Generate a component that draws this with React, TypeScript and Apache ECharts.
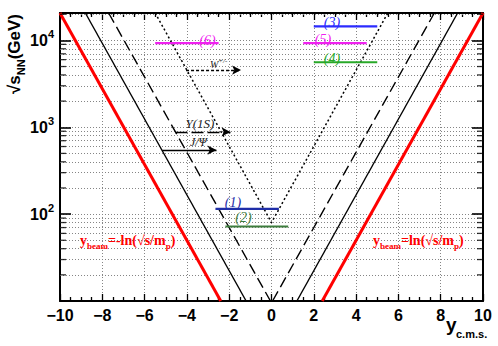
import React, { useEffect, useRef } from 'react';
import * as echarts from 'echarts';

// ---- axis extents ----
const xMin = -10;
const xMax = 10;
const sMin = 10;
const sMax = 20660;

// ---- rapidity boundary lines: [y_cms, sqrt(s_NN)] ----
const beamLeft = [[-10, 20660], [-2.4, 10]];
const beamRight = [[2.4, 10], [10, 20660]];
const jpsiLeft = [[-8.8, 20660], [-1.2, 10]];
const jpsiRight = [[1.2, 10], [8.8, 20660]];
const upsLeft = [[-7.7, 20660], [-0.05, 10]];
const upsRight = [[0.05, 10], [7.7, 20660]];
const wLine = [[-5.5, 20660], [0, 80], [5.5, 20660]];

// ---- experiment coverage segments ----
const segNames = ['(1)', '(2)', '(3)', '(4)', '(5)', '(6)'];
const segFrom = [-2.65, -2.18, 2.0, 2.0, 1.5, -5.5];
const segTo = [0.35, 0.79, 5.0, 5.0, 4.5, -2.5];
const segS = [115, 72, 14500, 5600, 9300, 9300];

// ---- arrows (particle thresholds) ----
const arrowNames = ['W', 'Upsilon', 'Jpsi'];
const arrowFrom = [-4.04, -4.54, -5.17];
const arrowTo = [-1.44, -1.94, -2.6];
const arrowS = [4550, 884, 546];

// ---- minor log grid levels ----
const mantissas = [2, 3, 4, 5, 6, 7, 8, 9];
const decades = [10, 100, 1000, 10000];

// ---- styles (kept apart from data) ----
const segColors = ['#1f2ea8', '#3d7d3d', '#2b2bff', '#28a828', '#f020f0', '#f020f0'];
const arrowTypes: any[] = [[3, 2], [12, 4], 'solid'];
const SANS = 'Liberation Sans, Arial, Helvetica, sans-serif';
const SERIF = 'Liberation Serif, Times New Roman, serif';
const GRID = '#858585';

export default function App() {
  const ref = useRef<HTMLDivElement>(null);

  useEffect(() => {
    document.body.style.margin = '0';
    const chart = echarts.init(ref.current!, null, { renderer: 'svg' });

    const minorLevels: number[] = [];
    decades.forEach((d) => mantissas.forEach((m) => {
      const v = m * d;
      if (v < sMax) minorLevels.push(v);
    }));

    const lineSeries = (data: number[][], color: string, width: number, type: any, z = 5) => ({
      type: 'line',
      data,
      symbol: 'none',
      showSymbol: false,
      silent: true,
      clip: true,
      z,
      lineStyle: { color, width, type },
    });

    const series: any[] = [
      {
        type: 'line',
        data: [],
        silent: true,
        z: 1,
        markLine: {
          silent: true,
          symbol: 'none',
          label: { show: false },
          lineStyle: { color: GRID, width: 1, type: [1, 2] },
          data: minorLevels.map((v) => ({ yAxis: v })),
        },
      },
      lineSeries(beamLeft, '#ff0000', 3, 'solid'),
      lineSeries(beamRight, '#ff0000', 3, 'solid'),
      lineSeries(jpsiLeft, '#000', 1.4, 'solid'),
      lineSeries(jpsiRight, '#000', 1.4, 'solid'),
      lineSeries(upsLeft, '#000', 1.4, [11, 5]),
      lineSeries(upsRight, '#000', 1.4, [11, 5]),
      lineSeries(wLine, '#000', 1.5, [2, 2.5]),
    ];

    segNames.forEach((n, i) => {
      series.push({
        ...lineSeries([[segFrom[i], segS[i]], [segTo[i], segS[i]]], segColors[i], 2.2, 'solid', 6),
        name: n,
      });
    });

    arrowNames.forEach((n, i) => {
      series.push({
        type: 'line',
        name: n,
        data: [],
        silent: true,
        z: 6,
        markLine: {
          silent: true,
          symbol: ['none', 'arrow'],
          symbolSize: [7, 9],
          label: { show: false },
          lineStyle: { color: '#000', width: 1.4, type: arrowTypes[i] },
          data: [[{ coord: [arrowFrom[i], arrowS[i]] }, { coord: [arrowTo[i], arrowS[i]] }]],
        },
      });
    });

    // minor ticks on the log axes (left and right)
    series.push({
      type: 'scatter',
      data: minorLevels.map((v) => [xMin, v]),
      symbol: 'rect',
      symbolSize: [6, 1.3],
      symbolOffset: [3, 0],
      itemStyle: { color: '#000' },
      silent: true,
      clip: false,
      z: 8,
    });
    series.push({
      type: 'scatter',
      data: minorLevels.map((v) => [xMax, v]),
      symbol: 'rect',
      symbolSize: [6, 1.3],
      symbolOffset: [-3, 0],
      itemStyle: { color: '#000' },
      silent: true,
      clip: false,
      z: 8,
    });

    const axisLine = { show: true, onZero: false, lineStyle: { color: '#000', width: 2 } };

    const italic = (color: string, size = 14) => ({
      fontFamily: SERIF, fontStyle: 'italic', fontSize: size, fill: color,
    });

    const segLabelPos = [[233, 202], [243.5, 217.5], [332, 22], [332, 58.5], [323, 39.5], [207.5, 40]];

    const graphics: any[] = segNames.map((n, i) => ({
      type: 'text',
      x: segLabelPos[i][0],
      y: segLabelPos[i][1],
      silent: true,
      z: 20,
      style: { text: n, ...italic(segColors[i], 14), align: 'center', verticalAlign: 'middle' },
    }));

    graphics.push(
      {
        type: 'text', x: 200, y: 123, z: 20, silent: true,
        style: { text: 'Υ(1S)', ...italic('#222', 13), align: 'center', verticalAlign: 'middle' },
      },
      {
        type: 'text', x: 198.5, y: 142, z: 20, silent: true,
        style: { text: 'J/Ψ', ...italic('#222', 12), align: 'center', verticalAlign: 'middle' },
      },
      {
        type: 'text', x: 210, y: 64, z: 20, silent: true,
        style: {
          text: '{m|W}{s|+/-}', align: 'left', verticalAlign: 'middle',
          rich: {
            m: { fontFamily: SERIF, fontStyle: 'italic', fontSize: 10, fill: '#222', lineHeight: 14 },
            s: { fontFamily: SERIF, fontStyle: 'italic', fontSize: 7, fill: '#222', verticalAlign: 'top', lineHeight: 8 },
          },
        },
      },
    );

    const redRich = {
      m: { fontFamily: SERIF, fontWeight: 'bold', fontSize: 14, fill: '#ff0000', lineHeight: 20 },
      s: { fontFamily: SERIF, fontWeight: 'bold', fontSize: 9, fill: '#ff0000', verticalAlign: 'bottom', lineHeight: 9 },
    };
    graphics.push(
      {
        type: 'text', x: 80, y: 240, z: 20, silent: true,
        style: { text: '{m|y}{s|beam}{m|=-ln(√s/m}{s|p}{m|)}', align: 'left', verticalAlign: 'middle', rich: redRich },
      },
      {
        type: 'text', x: 373, y: 240, z: 20, silent: true,
        style: { text: '{m|y}{s|beam}{m|=ln(√s/m}{s|p}{m|)}', align: 'left', verticalAlign: 'middle', rich: redRich },
      },
    );

    // axis titles
    graphics.push(
      {
        type: 'text', x: 14, y: 54, rotation: Math.PI / 2, z: 20, silent: true,
        style: {
          text: '{m|√s}{s|NN}{m|(GeV)}', align: 'center', verticalAlign: 'middle',
          rich: {
            m: { fontFamily: SANS, fontWeight: 'bold', fontSize: 17, fill: '#000', lineHeight: 24 },
            s: { fontFamily: SANS, fontWeight: 'bold', fontSize: 11, fill: '#000', verticalAlign: 'bottom', lineHeight: 12 },
          },
        },
      },
      {
        type: 'text', x: 446, y: 324, z: 20, silent: true,
        style: { text: 'y', align: 'left', verticalAlign: 'middle', fontFamily: SANS, fontWeight: 'bold', fontSize: 19, fill: '#000' },
      },
      {
        type: 'text', x: 456, y: 334, z: 20, silent: true,
        style: { text: 'c.m.s.', align: 'left', verticalAlign: 'middle', fontFamily: SANS, fontWeight: 'bold', fontSize: 11, fill: '#000' },
      },
    );

    chart.setOption({
      animation: false,
      backgroundColor: '#fff',
      grid: { left: 60, right: 15, top: 13, bottom: 45 },
      xAxis: [
        {
          type: 'value', min: xMin, max: xMax, interval: 2, position: 'bottom',
          axisLine,
          axisTick: { show: true, inside: true, length: 7, lineStyle: { color: '#000', width: 1.3 } },
          minorTick: { show: true, splitNumber: 4, length: 4, lineStyle: { color: '#000', width: 1.3 } },
          splitLine: { show: true, lineStyle: { color: GRID, width: 1, type: [1, 2] } },
          axisLabel: {
            margin: 6, color: '#000', fontFamily: SANS, fontWeight: 'bold', fontSize: 16,
            formatter: (v: number) => (v < 0 ? '−' + Math.abs(v) : String(v)),
          },
        },
        {
          type: 'value', min: xMin, max: xMax, interval: 2, position: 'top',
          axisLine,
          axisTick: { show: true, inside: true, length: 7, lineStyle: { color: '#000', width: 1.3 } },
          minorTick: { show: true, splitNumber: 4, length: 4, lineStyle: { color: '#000', width: 1.3 } },
          splitLine: { show: false },
          axisLabel: { show: false },
        },
      ],
      yAxis: [
        {
          type: 'log', logBase: 10, min: sMin, max: sMax, position: 'left',
          axisLine,
          axisTick: { show: true, inside: true, length: 11, lineStyle: { color: '#000', width: 1.6 } },
          splitLine: { show: true, lineStyle: { color: GRID, width: 1, type: [1, 2] } },
          axisLabel: {
            margin: 6, showMinLabel: false, showMaxLabel: false,
            formatter: (v: number) => `{b|10}{s|${Math.round(Math.log10(v))}}`,
            rich: {
              b: { fontFamily: SANS, fontWeight: 'bold', fontSize: 16, color: '#000', lineHeight: 24 },
              s: { fontFamily: SANS, fontWeight: 'bold', fontSize: 11, color: '#000', verticalAlign: 'top', lineHeight: 12 },
            },
          },
        },
        {
          type: 'log', logBase: 10, min: sMin, max: sMax, position: 'right',
          axisLine,
          axisTick: { show: true, inside: true, length: 11, lineStyle: { color: '#000', width: 1.6 } },
          splitLine: { show: false },
          axisLabel: { show: false },
        },
      ],
      series,
      graphic: graphics,
    });

    return () => chart.dispose();
  }, []);

  return <div ref={ref} style={{ position: 'fixed', left: 0, top: 0, width: 498, height: 346 }} />;
}
